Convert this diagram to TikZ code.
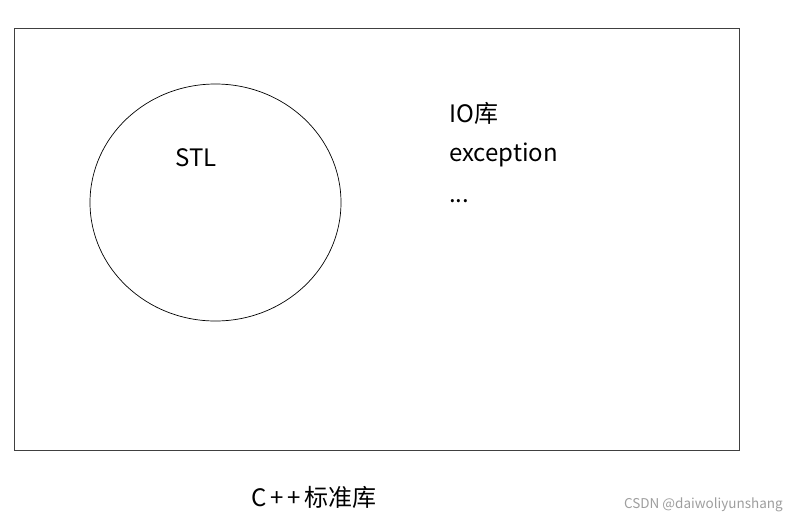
\documentclass[tikz,border=0pt]{standalone}
\usepackage{fontspec}
\setmainfont{Noto Sans CJK SC}
\usetikzlibrary{positioning, shapes.geometric}

\begin{document}
\begin{tikzpicture}[
        x=1pt, y=-1pt,
        % outer frame = the whole standard library, the circle = STL inside it
        frame/.style ={draw=black!75, line width=0.9pt, inner sep=0pt,
                minimum width=725pt, minimum height=422pt},
        part/.style  ={draw=black, ellipse, line width=0.7pt, inner sep=0pt,
                minimum width=251pt, minimum height=237pt},
        lbl/.style   ={font=\fontsize{24}{28}\selectfont, inner sep=0pt, anchor=west},
        wmark/.style ={font=\fontsize{13.5}{16}\selectfont, text=black!38, inner sep=0pt}
    ]
    \useasboundingbox (0,0) rectangle (804,520);

    \node[frame] (stdlib) at (376.5,239) {};
    \node[part]  (stl)    at (215.5,202.5) {};

    \node[lbl, anchor=center] (stlname) at (196,158) {STL};
    \node[lbl] (io)     at (449,113) {IO库};
    \node[lbl] (exc)    at (449,155) {exception};
    \node[lbl] (more)   at (449,201) {...};

    % caption below the frame
    \node[lbl, anchor=center] (title) at (314,497) {C{\,}+{\,}+{\,}标准库};
    \node[wmark, anchor=east] (wm) at (783,505) {CSDN @daiwoliyunshang};
\end{tikzpicture}
\end{document}
